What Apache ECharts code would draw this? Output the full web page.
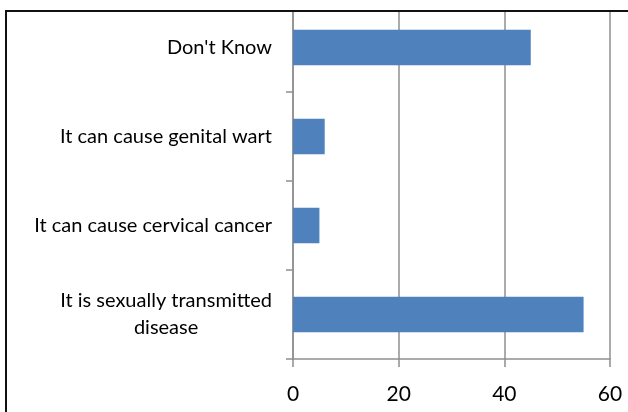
<!DOCTYPE html>
<html>
<head>
<meta charset="utf-8">
<script src="https://cdn.jsdelivr.net/npm/echarts@6/dist/echarts.min.js"></script>
<style>
  html, body { margin: 0; padding: 0; background: #fff; }
  #chart { width: 628px; height: 412px; }
</style>
</head>
<body>
<div id="chart"></div>
<script>
// Survey answers, listed bottom to top as the category axis draws them
const categories = [
  'It is sexually transmitted\ndisease',
  'It can cause cervical cancer',
  'It can cause genital wart',
  "Don't Know"
];
const values = [55, 5, 6, 45];
const xTicks = { min: 0, max: 60, interval: 20 };

const FONT = 'Lato';
const TEXT = '#000';
const AXIS_GREY = '#8f8f8f';

const chart = echarts.init(document.getElementById('chart'), null, { renderer: 'canvas' });

chart.setOption({
  animation: false,
  backgroundColor: '#fff',
  grid: { left: 293, right: 18, top: 3, bottom: 53, containLabel: false },
  xAxis: {
    type: 'value',
    min: xTicks.min,
    max: xTicks.max,
    interval: xTicks.interval,
    axisLine: { show: true, lineStyle: { color: AXIS_GREY, width: 1.5 } },
    axisTick: { show: true, inside: false, length: 8, lineStyle: { color: AXIS_GREY, width: 1.5 } },
    splitLine: { show: true, lineStyle: { color: AXIS_GREY, width: 1.5 } },
    axisLabel: { fontFamily: FONT, fontSize: 21, color: TEXT, margin: 25 }
  },
  yAxis: {
    type: 'category',
    data: categories,
    axisLine: { show: true, lineStyle: { color: AXIS_GREY, width: 1.5 } },
    axisTick: { show: true, inside: false, length: 7, lineStyle: { color: AXIS_GREY, width: 1.5 } },
    splitLine: { show: false },
    axisLabel: {
      fontFamily: FONT,
      fontSize: 20,
      color: TEXT,
      margin: 21,
      lineHeight: 27,
      formatter: function (v) {
        if (v.indexOf('\n') < 0) return v;
        return v.split('\n').map(function (s) { return '{c|' + s + '}'; }).join('\n');
      },
      rich: {
        c: { fontFamily: FONT, fontSize: 20, color: TEXT, lineHeight: 27, align: 'center' }
      }
    }
  },
  series: [{
    type: 'bar',
    data: values,
    barCategoryGap: '60%',
    itemStyle: { color: '#4f81bd' }
  }],
  graphic: [
    { type: 'rect', z: 100, shape: { x: 0, y: 0, width: 628, height: 10 }, style: { fill: '#fff' } },
    { type: 'line', z: 101, shape: { x1: 5, y1: 11, x2: 628, y2: 11 }, style: { stroke: '#111', lineWidth: 2 } },
    { type: 'line', z: 101, shape: { x1: 6, y1: 10, x2: 6, y2: 412 }, style: { stroke: '#111', lineWidth: 2 } }
  ]
});
</script>
</body>
</html>
